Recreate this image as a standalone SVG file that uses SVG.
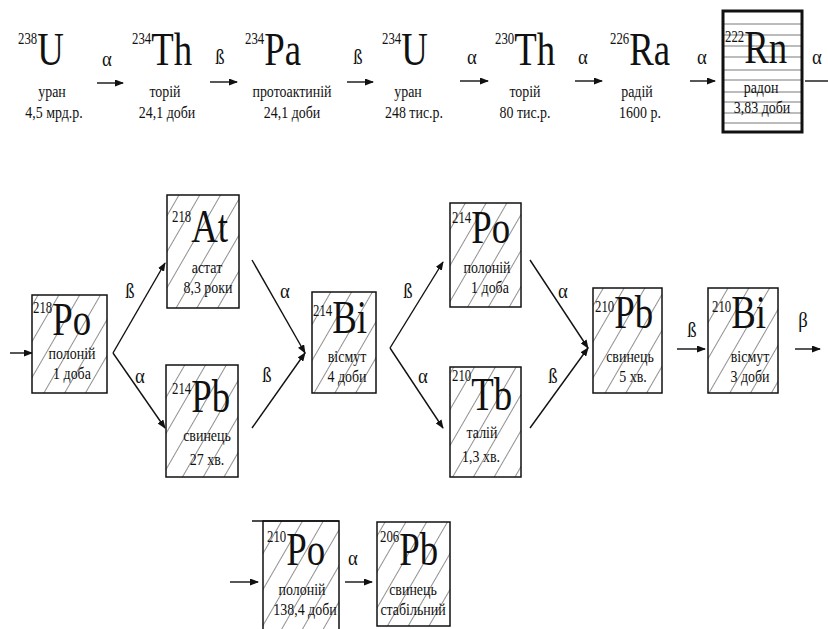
<svg xmlns="http://www.w3.org/2000/svg" width="828" height="629" viewBox="0 0 828 629">
<style>
text { font-family: "Liberation Serif", "Times New Roman", serif; fill: #111; }
.sym { font-size: 46px; }
.sup { font-size: 16px; }
.lbl { font-size: 17px; text-anchor: middle; }
.gr { font-size: 22px; text-anchor: middle; }
.box { fill: url(#hatch); stroke: #111; stroke-width: 1.5; }
.con { fill: none; stroke: #111; stroke-width: 1.4; marker-end: url(#ah); }
.rnl { stroke: #555; stroke-width: 0.8; }
</style>
<defs>
<pattern id="hatch" patternUnits="userSpaceOnUse" width="18" height="18" patternTransform="rotate(30)">
<rect width="18" height="18" fill="#fff"/>
<line x1="0" y1="0" x2="0" y2="18" stroke="#222" stroke-width="1"/>
</pattern>
<marker id="ah" markerUnits="userSpaceOnUse" markerWidth="9" markerHeight="7" refX="8" refY="3.5" orient="auto">
<path d="M0,0 L9,3.5 L0,7 z" fill="#111"/>
</marker>
</defs>
<rect width="828" height="629" fill="#fff"/>

<g id="connectors">
<path class="con" d="M97,83 L123,83"/>
<path class="con" d="M210,82 L237,82"/>
<path class="con" d="M347,82 L373,82"/>
<path class="con" d="M460,81 L488,81"/>
<path class="con" d="M575,81 L602,81"/>
<path class="con" d="M690,81 L715,81"/>
<path d="M805,81 L828,81" fill="none" stroke="#111" stroke-width="1.4"/>
<path class="con" d="M10,353 L32,353"/>
<path class="con" d="M113,353 L165,263"/>
<path class="con" d="M113,353 L165,428"/>
<path class="con" d="M252,260 L305,353"/>
<path class="con" d="M252,428 L305,353"/>
<path class="con" d="M390,348 L443,262"/>
<path class="con" d="M390,348 L443,428"/>
<path class="con" d="M530,260 L588,348"/>
<path class="con" d="M530,428 L588,348"/>
<path class="con" d="M677,349 L705,349"/>
<path class="con" d="M795,349 L820,349"/>
<path class="con" d="M230,582 L258,582"/>
<path class="con" d="M345,582 L372,582"/>
<g id="labels">
<text class="gr" transform="translate(107,66) scale(0.85,1)">α</text>
<text class="gr" transform="translate(220,64) scale(0.85,1)">ß</text>
<text class="gr" transform="translate(358,64) scale(0.85,1)">ß</text>
<text class="gr" transform="translate(472,64) scale(0.85,1)">α</text>
<text class="gr" transform="translate(583,64) scale(0.85,1)">α</text>
<text class="gr" transform="translate(702,64) scale(0.85,1)">α</text>
<text class="gr" transform="translate(817,64) scale(0.85,1)">α</text>
<text class="gr" transform="translate(130,298) scale(0.85,1)">ß</text>
<text class="gr" transform="translate(140,383) scale(0.85,1)">α</text>
<text class="gr" transform="translate(285,298) scale(0.85,1)">α</text>
<text class="gr" transform="translate(267,382) scale(0.85,1)">ß</text>
<text class="gr" transform="translate(408,298) scale(0.85,1)">ß</text>
<text class="gr" transform="translate(423,383) scale(0.85,1)">α</text>
<text class="gr" transform="translate(563,298) scale(0.85,1)">α</text>
<text class="gr" transform="translate(553,383) scale(0.85,1)">ß</text>
<text class="gr" transform="translate(692,337) scale(0.85,1)">ß</text>
<text class="gr" transform="translate(803,327) scale(0.85,1)">β</text>
<text class="gr" transform="translate(353,565) scale(0.85,1)">α</text>
</g>
</g>

<g id="u238">
<text transform="translate(18,65) scale(0.8,1)"><tspan class="sup" y="-21">238</tspan><tspan class="sym" y="0">U</tspan></text>
<text class="lbl" transform="translate(52,97) scale(0.82,1)">уран</text>
<text class="lbl" transform="translate(54,118) scale(0.82,1)">4,5 мрд.р.</text>
</g>
<g id="th234">
<text transform="translate(132,65) scale(0.8,1)"><tspan class="sup" y="-21">234</tspan><tspan class="sym" y="0">Th</tspan></text>
<text class="lbl" transform="translate(165,97) scale(0.82,1)">торій</text>
<text class="lbl" transform="translate(167,118) scale(0.82,1)">24,1 доби</text>
</g>
<g id="pa234">
<text transform="translate(245,65) scale(0.8,1)"><tspan class="sup" y="-21">234</tspan><tspan class="sym" y="0">Pa</tspan></text>
<text class="lbl" transform="translate(292,97) scale(0.82,1)">протоактиній</text>
<text class="lbl" transform="translate(292,118) scale(0.82,1)">24,1 доби</text>
</g>
<g id="u234">
<text transform="translate(382,65) scale(0.8,1)"><tspan class="sup" y="-21">234</tspan><tspan class="sym" y="0">U</tspan></text>
<text class="lbl" transform="translate(408,97) scale(0.82,1)">уран</text>
<text class="lbl" transform="translate(414,118) scale(0.82,1)">248 тис.р.</text>
</g>
<g id="th230">
<text transform="translate(495,65) scale(0.8,1)"><tspan class="sup" y="-21">230</tspan><tspan class="sym" y="0">Th</tspan></text>
<text class="lbl" transform="translate(525,97) scale(0.82,1)">торій</text>
<text class="lbl" transform="translate(525,118) scale(0.82,1)">80 тис.р.</text>
</g>
<g id="ra226">
<text transform="translate(610,65) scale(0.8,1)"><tspan class="sup" y="-21">226</tspan><tspan class="sym" y="0">Ra</tspan></text>
<text class="lbl" transform="translate(637,97) scale(0.82,1)">радій</text>
<text class="lbl" transform="translate(640,118) scale(0.82,1)">1600 р.</text>
</g>
<g id="rn222">
<rect x="723" y="11" width="79" height="121" fill="#fff"/>
<g class="rnl">
<line x1="723" y1="24" x2="802" y2="24"/>
<line x1="723" y1="35" x2="802" y2="35"/>
<line x1="723" y1="46" x2="802" y2="46"/>
<line x1="723" y1="57" x2="802" y2="57"/>
<line x1="723" y1="70" x2="802" y2="70"/>
<line x1="723" y1="80" x2="802" y2="80"/>
<line x1="723" y1="92" x2="802" y2="92"/>
<line x1="723" y1="102" x2="802" y2="102"/>
<line x1="723" y1="113" x2="802" y2="113"/>
<line x1="723" y1="123" x2="802" y2="123"/>
</g>
<rect x="723" y="11" width="79" height="121" fill="none" stroke="#111" stroke-width="3"/>
<text transform="translate(725,63) scale(0.8,1)"><tspan class="sup" y="-21">222</tspan><tspan class="sym" y="0">Rn</tspan></text>
<text class="lbl" transform="translate(761,93) scale(0.82,1)">радон</text>
<text class="lbl" transform="translate(762,113) scale(0.82,1)">3,83 доби</text>
</g>

<g id="po218">
<rect class="box" x="32" y="295" width="75" height="98"/>
<text transform="translate(33,335) scale(0.8,1)"><tspan class="sup" y="-22">218</tspan><tspan class="sym" y="0">Po</tspan></text>
<text class="lbl" transform="translate(72,359) scale(0.82,1)">полоній</text>
<text class="lbl" transform="translate(72,379) scale(0.82,1)">1 доба</text>
</g>
<g id="at218">
<rect class="box" x="167" y="195" width="72" height="113"/>
<text transform="translate(172,242) scale(0.8,1)"><tspan class="sup" y="-20">218</tspan><tspan class="sym" y="0">At</tspan></text>
<text class="lbl" transform="translate(207,273) scale(0.82,1)">астат</text>
<text class="lbl" transform="translate(208,293) scale(0.82,1)">8,3 роки</text>
</g>
<g id="pb214">
<rect class="box" x="166" y="365" width="72" height="112"/>
<text transform="translate(172,412) scale(0.8,1)"><tspan class="sup" y="-18">214</tspan><tspan class="sym" y="0">Pb</tspan></text>
<text class="lbl" transform="translate(207,441) scale(0.82,1)">свинець</text>
<text class="lbl" transform="translate(207,465) scale(0.82,1)">27 хв.</text>
</g>
<g id="bi214">
<rect class="box" x="312" y="292" width="64" height="101"/>
<text transform="translate(313,333) scale(0.8,1)"><tspan class="sup" y="-17">214</tspan><tspan class="sym" y="0">Bi</tspan></text>
<text class="lbl" transform="translate(347,362) scale(0.82,1)">вісмут</text>
<text class="lbl" transform="translate(347,382) scale(0.82,1)">4 доби</text>
</g>
<g id="po214">
<rect class="box" x="450" y="203" width="71" height="104"/>
<text transform="translate(452,243) scale(0.8,1)"><tspan class="sup" y="-20">214</tspan><tspan class="sym" y="0">Po</tspan></text>
<text class="lbl" transform="translate(487,273) scale(0.82,1)">полоній</text>
<text class="lbl" transform="translate(490,293) scale(0.82,1)">1 доба</text>
</g>
<g id="tb210">
<rect class="box" x="450" y="367" width="71" height="110"/>
<text transform="translate(452,410) scale(0.8,1)"><tspan class="sup" y="-29">210</tspan><tspan class="sym" y="0">Tb</tspan></text>
<text class="lbl" transform="translate(482,438) scale(0.82,1)">талій</text>
<text class="lbl" transform="translate(481,462) scale(0.82,1)">1,3 хв.</text>
</g>
<g id="pb210">
<rect class="box" x="593" y="288" width="69" height="105"/>
<text transform="translate(595,328) scale(0.8,1)"><tspan class="sup" y="-16">210</tspan><tspan class="sym" y="0">Pb</tspan></text>
<text class="lbl" transform="translate(630,362) scale(0.82,1)">свинець</text>
<text class="lbl" transform="translate(633,382) scale(0.82,1)">5 хв.</text>
</g>
<g id="bi210">
<rect class="box" x="708" y="288" width="70" height="105"/>
<text transform="translate(712,328) scale(0.8,1)"><tspan class="sup" y="-16">210</tspan><tspan class="sym" y="0">Bi</tspan></text>
<text class="lbl" transform="translate(750,362) scale(0.82,1)">вісмут</text>
<text class="lbl" transform="translate(750,382) scale(0.82,1)">3 доби</text>
</g>
<g id="po210">
<rect class="box" x="263" y="521" width="76" height="120"/>
<line x1="252" y1="521" x2="339" y2="521" stroke="#111" stroke-width="1.5"/>
<text transform="translate(267,565) scale(0.8,1)"><tspan class="sup" y="-23">210</tspan><tspan class="sym" y="0">Po</tspan></text>
<text class="lbl" transform="translate(302,595) scale(0.82,1)">полоній</text>
<text class="lbl" transform="translate(305,615) scale(0.82,1)">138,4 доби</text>
</g>
<g id="pb206">
<rect class="box" x="377" y="522" width="73" height="104"/>
<text transform="translate(380,565) scale(0.8,1)"><tspan class="sup" y="-23">206</tspan><tspan class="sym" y="0">Pb</tspan></text>
<text class="lbl" transform="translate(413,595) scale(0.82,1)">свинець</text>
<text class="lbl" transform="translate(413,615) scale(0.82,1)">стабільний</text>
</g>
</svg>
